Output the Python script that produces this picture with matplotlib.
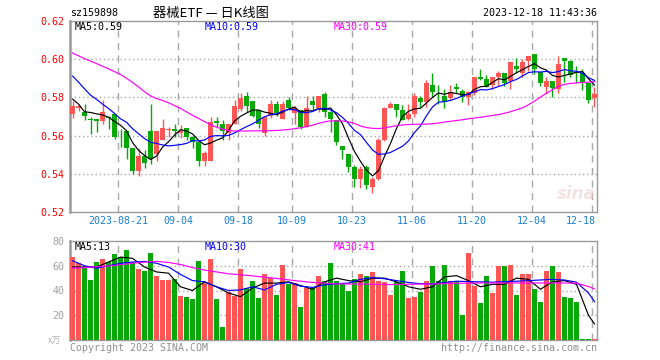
import matplotlib
matplotlib.use("Agg")
import matplotlib.pyplot as plt
import numpy as np

# daily candles, 2023-08-09 .. 2023-12-18 (88 trading days)
opens = [0.5714, 0.5746, 0.5723, 0.5686, 0.5686, 0.5677, 0.5698, 0.5712, 0.5584, 0.5623,
         0.5535, 0.5414, 0.5491, 0.5625, 0.5505, 0.5575, 0.5628, 0.5635, 0.5612, 0.5642,
         0.5593, 0.5568, 0.5467, 0.5467, 0.5674, 0.5660, 0.5612, 0.5663, 0.5740, 0.5805,
         0.5781, 0.5733, 0.5616, 0.5705, 0.5768, 0.5688, 0.5789, 0.5719, 0.5733, 0.5646,
         0.5779, 0.5744, 0.5817, 0.5725, 0.5681, 0.5544, 0.5502, 0.5435, 0.5372, 0.5435,
         0.5330, 0.5372, 0.5575, 0.5747, 0.5765, 0.5733, 0.5686, 0.5712, 0.5795, 0.5777,
         0.5865, 0.5828, 0.5809, 0.5798, 0.5853, 0.5833, 0.5800, 0.5821, 0.5905, 0.5895,
         0.5865, 0.5909, 0.5926, 0.5888, 0.5965, 0.5926, 0.5988, 0.6028, 0.5935, 0.5856,
         0.5886, 0.5842, 0.6005, 0.5988, 0.5935, 0.5926, 0.5877, 0.5798]
highs = [0.5780, 0.5765, 0.5765, 0.5698, 0.5688, 0.5786, 0.5705, 0.5712, 0.5635, 0.5623,
         0.5537, 0.5535, 0.5523, 0.5765, 0.5625, 0.5686, 0.5646, 0.5663, 0.5654, 0.5642,
         0.5596, 0.5568, 0.5520, 0.5695, 0.5698, 0.5681, 0.5663, 0.5786, 0.5825, 0.5828,
         0.5781, 0.5733, 0.5702, 0.5789, 0.5780, 0.5780, 0.5802, 0.5754, 0.5733, 0.5807,
         0.5807, 0.5807, 0.5828, 0.5733, 0.5681, 0.5544, 0.5502, 0.5444, 0.5439, 0.5444,
         0.5382, 0.5589, 0.5751, 0.5774, 0.5765, 0.5760, 0.5763, 0.5825, 0.5807, 0.5890,
         0.5930, 0.5865, 0.5842, 0.5865, 0.5877, 0.5844, 0.5835, 0.5909, 0.5947, 0.5918,
         0.5905, 0.5939, 0.5926, 0.5984, 0.6005, 0.6000, 0.6018, 0.6028, 0.5935, 0.5909,
         0.5886, 0.6018, 0.6005, 0.5996, 0.5965, 0.5947, 0.5877, 0.5853]
lows = [0.5693, 0.5730, 0.5684, 0.5609, 0.5620, 0.5660, 0.5632, 0.5580, 0.5542, 0.5475,
        0.5400, 0.5386, 0.5432, 0.5453, 0.5467, 0.5575, 0.5593, 0.5593, 0.5589, 0.5575,
        0.5533, 0.5442, 0.5442, 0.5467, 0.5646, 0.5575, 0.5575, 0.5663, 0.5728, 0.5723,
        0.5695, 0.5642, 0.5598, 0.5693, 0.5702, 0.5688, 0.5733, 0.5663, 0.5635, 0.5646,
        0.5733, 0.5721, 0.5695, 0.5619, 0.5549, 0.5477, 0.5409, 0.5330, 0.5326, 0.5321,
        0.5298, 0.5365, 0.5570, 0.5742, 0.5695, 0.5680, 0.5684, 0.5700, 0.5751, 0.5751,
        0.5800, 0.5768, 0.5742, 0.5789, 0.5821, 0.5774, 0.5760, 0.5812, 0.5891, 0.5853,
        0.5842, 0.5861, 0.5861, 0.5842, 0.5926, 0.5909, 0.5940, 0.5923, 0.5861, 0.5818,
        0.5800, 0.5825, 0.5882, 0.5905, 0.5874, 0.5839, 0.5772, 0.5751]
closes = [0.5754, 0.5754, 0.5703, 0.5684, 0.5677, 0.5723, 0.5693, 0.5593, 0.5582, 0.5537,
          0.5414, 0.5491, 0.5456, 0.5479, 0.5625, 0.5642, 0.5637, 0.5625, 0.5626, 0.5591,
          0.5568, 0.5467, 0.5509, 0.5672, 0.5665, 0.5625, 0.5663, 0.5754, 0.5796, 0.5754,
          0.5705, 0.5660, 0.5698, 0.5768, 0.5716, 0.5768, 0.5746, 0.5746, 0.5646, 0.5747,
          0.5760, 0.5807, 0.5725, 0.5686, 0.5567, 0.5523, 0.5435, 0.5372, 0.5426, 0.5339,
          0.5372, 0.5575, 0.5742, 0.5765, 0.5733, 0.5684, 0.5712, 0.5807, 0.5777, 0.5875,
          0.5830, 0.5826, 0.5774, 0.5826, 0.5842, 0.5803, 0.5830, 0.5909, 0.5895, 0.5853,
          0.5905, 0.5930, 0.5877, 0.5984, 0.5949, 0.5984, 0.6018, 0.5949, 0.5877, 0.5886,
          0.5847, 0.5975, 0.5988, 0.5918, 0.5926, 0.5874, 0.5786, 0.5817]

# price moving averages
ma5 = [0.5791, 0.5765, 0.5725, 0.5721, 0.5714, 0.5708, 0.5696, 0.5674, 0.5654, 0.5626,
       0.5564, 0.5523, 0.5496, 0.5475, 0.5493, 0.5539, 0.5568, 0.5602, 0.5631, 0.5624,
       0.5609, 0.5575, 0.5552, 0.5561, 0.5576, 0.5588, 0.5627, 0.5676, 0.5701, 0.5718,
       0.5734, 0.5734, 0.5723, 0.5717, 0.5709, 0.5722, 0.5739, 0.5749, 0.5724, 0.5731,
       0.5729, 0.5741, 0.5737, 0.5745, 0.5709, 0.5662, 0.5587, 0.5517, 0.5465, 0.5419,
       0.5389, 0.5417, 0.5491, 0.5559, 0.5637, 0.5700, 0.5727, 0.5740, 0.5743, 0.5771,
       0.5800, 0.5823, 0.5816, 0.5826, 0.5820, 0.5814, 0.5815, 0.5842, 0.5856, 0.5858,
       0.5878, 0.5898, 0.5892, 0.5910, 0.5929, 0.5945, 0.5962, 0.5977, 0.5955, 0.5943,
       0.5915, 0.5907, 0.5915, 0.5923, 0.5931, 0.5936, 0.5898, 0.5864]
ma10 = [0.5912, 0.5880, 0.5845, 0.5812, 0.5790, 0.5765, 0.5742, 0.5716, 0.5688, 0.5670,
        0.5636, 0.5610, 0.5585, 0.5565, 0.5559, 0.5551, 0.5546, 0.5549, 0.5553, 0.5559,
        0.5574, 0.5572, 0.5577, 0.5596, 0.5600, 0.5599, 0.5601, 0.5614, 0.5631, 0.5647,
        0.5661, 0.5680, 0.5699, 0.5709, 0.5714, 0.5728, 0.5737, 0.5736, 0.5721, 0.5720,
        0.5726, 0.5740, 0.5743, 0.5735, 0.5720, 0.5695, 0.5664, 0.5627, 0.5605, 0.5564,
        0.5525, 0.5502, 0.5504, 0.5512, 0.5528, 0.5544, 0.5572, 0.5616, 0.5651, 0.5704,
        0.5750, 0.5775, 0.5778, 0.5784, 0.5795, 0.5807, 0.5819, 0.5829, 0.5841, 0.5839,
        0.5846, 0.5857, 0.5867, 0.5883, 0.5894, 0.5912, 0.5930, 0.5934, 0.5933, 0.5936,
        0.5930, 0.5935, 0.5946, 0.5939, 0.5937, 0.5926, 0.5903, 0.5889]
ma30 = [0.6032, 0.6018, 0.6003, 0.5990, 0.5977, 0.5963, 0.5950, 0.5935, 0.5920, 0.5900,
        0.5878, 0.5855, 0.5830, 0.5808, 0.5794, 0.5784, 0.5772, 0.5757, 0.5742, 0.5724,
        0.5706, 0.5690, 0.5673, 0.5657, 0.5644, 0.5634, 0.5627, 0.5624, 0.5624, 0.5624,
        0.5625, 0.5625, 0.5625, 0.5626, 0.5627, 0.5629, 0.5632, 0.5636, 0.5641, 0.5647,
        0.5654, 0.5664, 0.5672, 0.5677, 0.5677, 0.5676, 0.5672, 0.5664, 0.5650, 0.5642,
        0.5638, 0.5637, 0.5640, 0.5646, 0.5652, 0.5656, 0.5658, 0.5659, 0.5660, 0.5660,
        0.5662, 0.5666, 0.5671, 0.5675, 0.5679, 0.5683, 0.5688, 0.5692, 0.5696, 0.5701,
        0.5705, 0.5710, 0.5717, 0.5725, 0.5735, 0.5745, 0.5762, 0.5780, 0.5802, 0.5822,
        0.5840, 0.5858, 0.5868, 0.5873, 0.5876, 0.5878, 0.5880, 0.5882]

# volume (万手)
volume = [66.7, 61.9, 59.2, 48.8, 63.2, 65.6, 63.2, 69.6, 67.2, 72.8,
          63.2, 57.0, 56.0, 70.4, 52.0, 48.8, 48.8, 49.6, 35.5, 34.4,
          32.8, 64.0, 45.9, 65.6, 32.8, 10.4, 38.4, 35.2, 57.6, 42.0,
          48.0, 33.6, 53.0, 50.0, 36.0, 61.0, 45.0, 46.0, 27.0, 42.0,
          42.0, 52.0, 48.0, 62.0, 48.0, 45.0, 40.0, 49.0, 53.0, 52.0,
          55.0, 48.0, 47.0, 36.0, 47.0, 56.0, 34.0, 35.0, 39.0, 48.0,
          60.0, 48.0, 61.0, 48.0, 48.0, 20.0, 70.0, 44.0, 30.0, 52.0,
          38.0, 60.0, 60.0, 61.0, 36.0, 53.0, 53.0, 41.0, 31.0, 56.0,
          60.0, 55.0, 35.0, 34.0, 31.0, 1.0, 1.0, 1.0]

# volume moving averages, read every second day
vma_idx = list(range(0, 88, 2)) + [87]
vma5 = [59, 59, 59, 63, 67, 66, 59, 55, 54, 43, 40, 47, 43, 38, 35, 42, 46, 46, 47, 44,
        41, 47, 50, 48, 47, 50, 50, 47, 43, 41, 43, 51, 52, 48, 43, 45, 45, 50, 49, 41,
        47, 48, 45, 20, 13]
vma10 = [64, 60, 58, 60, 62, 63, 63.5, 62, 59, 53, 48, 47, 43, 40, 40.5, 43, 40.5, 45,
         46.5, 43.5, 42.5, 44.5, 45.5, 46, 49, 50.5, 49.5, 48, 46.5, 45.5, 45.3, 46.5,
         47.5, 47.2, 47, 46.7, 47.2, 47.5, 48, 48.5, 49, 48.5, 46.7, 38, 31]
vma30 = [58, 58.5, 59.2, 59.8, 60.8, 62, 63, 63.5, 62.7, 61, 58.5, 56.5, 55, 53.5, 52.7,
         51.8, 50.8, 49.7, 48.6, 47.5, 46.5, 46, 45.3, 45.3, 45.3, 45, 44.8, 44.9, 45,
         45.2, 45.3, 45.5, 45.8, 46, 46.1, 46.1, 46.1, 46.1, 46.1, 46.1, 46.1, 46.1,
         45.9, 43.2, 41.3]

date_ticks = [8, 18, 28, 37, 47, 57, 67, 77, 87]
date_labels = ["2023-08-21", "09-04", "09-18", "10-09", "10-23", "11-06", "11-20", "12-04", "12-18"]
price_ticks = [0.52, 0.54, 0.56, 0.58, 0.60, 0.62]
vol_ticks = [20, 40, 60, 80]

UP = "#ff5555"
DOWN = "#08a808"
GRID = "#a8a8a8"
MONO = ["DejaVu Sans Mono"]

W, H = 660, 360
fig = plt.figure(figsize=(6.6, 3.6), dpi=100)
ax = fig.add_axes([70 / W, 1 - 212 / H, 527 / W, 191 / H])
axv = fig.add_axes([70 / W, 1 - 340 / H, 527 / W, 99 / H])

x = np.arange(len(closes))
o = np.array(opens)
c = np.array(closes)
cols = [UP if cc >= oo else DOWN for oo, cc in zip(o, c)]

# candles
ax.vlines(x, lows, highs, colors=cols, lw=1, zorder=3)
ax.bar(x, np.maximum(np.abs(c - o), 0.00025), bottom=np.minimum(o, c),
       width=0.82, color=cols, zorder=4)
ax.plot(x, ma5, color="black", lw=0.85, zorder=5)
ax.plot(x, ma10, color="#0000ff", lw=0.85, zorder=5)
ax.plot(x, ma30, color="#ff00ff", lw=0.85, zorder=5)

# volume
axv.bar(x, volume, width=0.82, color=cols, zorder=3)
axv.plot(vma_idx, vma5, color="black", lw=0.85, zorder=5)
axv.plot(vma_idx, vma10, color="#0000ff", lw=0.85, zorder=5)
axv.plot(vma_idx, vma30, color="#ff00ff", lw=0.85, zorder=5)

for a in (ax, axv):
    a.set_xlim(-0.42, 87.42)
    for t in date_ticks:
        a.axvline(t - 0.4, color=GRID, lw=1, ls=(0, (5, 4)), zorder=1)
    a.set_xticks([])
    for s in a.spines.values():
        s.set_color("#999999")
        s.set_linewidth(1)
    a.spines["left"].set_linewidth(1.8)
    a.tick_params(axis="y", length=0, pad=4)

ax.set_ylim(0.52, 0.62)
ax.set_yticks(price_ticks)
ax.set_yticklabels(["%.2f" % v for v in price_ticks], color="red", family=MONO, fontsize=7.2)
for v in price_ticks[1:-1]:
    ax.axhline(v, color=GRID, lw=1, ls=(0, (1, 2)), zorder=1)

axv.set_ylim(0, 80)
axv.set_yticks(vol_ticks)
axv.set_yticklabels([str(v) for v in vol_ticks], color="#a0a0a0", family=MONO, fontsize=7.2)
for v in vol_ticks[:-1]:
    axv.axhline(v, color=GRID, lw=1, ls=(0, (1, 2)), zorder=1)

# date labels under price panel
for t, lab in zip(date_ticks, date_labels):
    ha = "center"
    xp = t - 0.4
    if t == date_ticks[-1]:
        ha, xp = "right", t + 0.15
    ax.text(xp, -0.045, lab, transform=ax.get_xaxis_transform(), ha=ha, va="center",
            color="#1a7fd0", family=MONO, fontsize=7.2)

# header
fig.text(70 / W, 1 - 13 / H, "sz159898", family=MONO, fontsize=7.2, va="center")
fig.text(211 / W, 1 - 13 / H, "器械ETF — 日K线图", family=["Noto Sans CJK SC", "DejaVu Sans"],
         fontsize=9.5, ha="center", va="center")
fig.text(597 / W, 1 - 13 / H, "2023-12-18 11:43:36", family=MONO, fontsize=7.2,
         ha="right", va="center")

# MA legends
for xp, txt, col in [(75, "MA5:0.59", "black"), (205, "MA10:0.59", "#0000ff"),
                     (334, "MA30:0.59", "#ff00ff")]:
    fig.text(xp / W, 1 - 27 / H, txt, color=col, family=MONO, fontsize=7.2, va="center")
for xp, txt, col in [(75, "MA5:13", "black"), (205, "MA10:30", "#0000ff"),
                     (334, "MA30:41", "#ff00ff")]:
    fig.text(xp / W, 1 - 247 / H, txt, color=col, family=MONO, fontsize=7.2, va="center")

# footer
fig.text(70 / W, 1 - 348 / H, "Copyright 2023 SINA.COM", color="#909090", family=MONO,
         fontsize=7.2, va="center")
fig.text(597 / W, 1 - 348 / H, "http://finance.sina.com.cn", color="#909090", family=MONO,
         fontsize=7.2, ha="right", va="center")
fig.text(48 / W, 1 - 341 / H, "x万", color="#b0b0b0", family=["Noto Sans CJK SC", "DejaVu Sans"],
         fontsize=6.5, va="center", style="italic")

# sina watermark
fig.text(576 / W, 1 - 194 / H, "sina", color="#eec4c4", alpha=0.5, fontsize=12,
         fontweight="bold", style="italic", ha="center", va="center")

fig.savefig("out.png", dpi=100)
